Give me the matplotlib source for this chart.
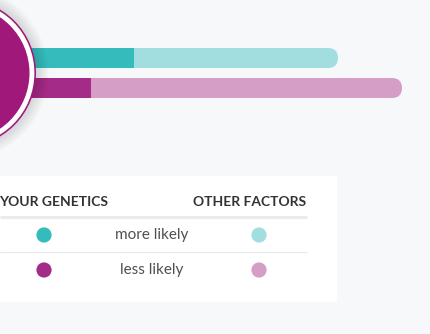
import numpy as np
import matplotlib
matplotlib.use('Agg')
import matplotlib.pyplot as plt
from matplotlib.patches import Circle, Rectangle, FancyBboxPatch

# bar values (share from genetics vs. total incl. other factors)
rows = ["more likely", "less likely"]
genetics = [134, 91]
totals = [338, 402]

col_headers = ["YOUR GENETICS", "OTHER FACTORS"]

dark_colors = ["#33bcbb", "#a52b88"]
light_colors = ["#a2dedf", "#d49ec6"]

bg = "#f7f8fa"
circle_color = "#a0197a"

W, H = 431, 334
fig = plt.figure(figsize=(W / 100, H / 100), dpi=100, facecolor=bg)
ax = fig.add_axes([0, 0, 1, 1])
ax.set_xlim(0, W)
ax.set_ylim(H, 0)
ax.set_aspect('equal')
ax.axis('off')
ax.set_facecolor(bg)

# --- bars ---
bar_y = [58, 88]
bar_h = 20
for i in range(len(rows)):
    y0 = bar_y[i] - bar_h / 2
    light = FancyBboxPatch((-60, y0), totals[i] + 60, bar_h,
                           boxstyle="round,pad=0,rounding_size=10",
                           fc=light_colors[i], ec="none", zorder=2)
    ax.add_patch(light)
    ax.add_patch(Rectangle((-60, y0), genetics[i] + 60, bar_h,
                           fc=dark_colors[i], ec="none", zorder=3))

# --- circle with soft shadow ---
cx, cy, r = -38, 73, 74
for k in range(8):
    ax.add_patch(Circle((cx, cy), r + 2 + k * 1.5, fc="#000000",
                        alpha=0.016, ec="none", zorder=4))
ax.add_patch(Circle((cx, cy), r, fc=circle_color, ec="none", zorder=5))
ax.add_patch(Circle((cx, cy), r - 1.6, fc="white", ec="none", zorder=6))
ax.add_patch(Circle((cx, cy), r - 6.5, fc=circle_color, ec="none", zorder=7))

# --- legend panel ---
ax.add_patch(Rectangle((-5, 176), 342, 126, fc="white", ec="none", zorder=1))

font = ["Lato", "DejaVu Sans"]
ax.text(108, 202, col_headers[0], ha="right", va="center", fontsize=10,
        fontweight="bold", color="#333333", family=font, zorder=8)
ax.text(306, 202, col_headers[1], ha="right", va="center", fontsize=10,
        fontweight="bold", color="#333333", family=font, zorder=8)
ax.plot([0, 307], [216.5, 216.5], color="#ebebeb", lw=2.2,
        solid_capstyle="butt", zorder=8)
ax.plot([0, 307], [252, 252], color="#e8e8e8", lw=0.8,
        solid_capstyle="butt", zorder=8)

row_y = [235, 270]
ax.scatter([44, 44], row_y, s=120, c=dark_colors, edgecolors="none", zorder=9)
ax.scatter([259, 259], row_y, s=120, c=light_colors, edgecolors="none", zorder=9)
for i, lab in enumerate(rows):
    ax.text(152, row_y[i], lab, ha="center", va="center", fontsize=11,
            color="#505050", family=font, zorder=9)

fig.savefig("out.png", dpi=100, facecolor=bg)
